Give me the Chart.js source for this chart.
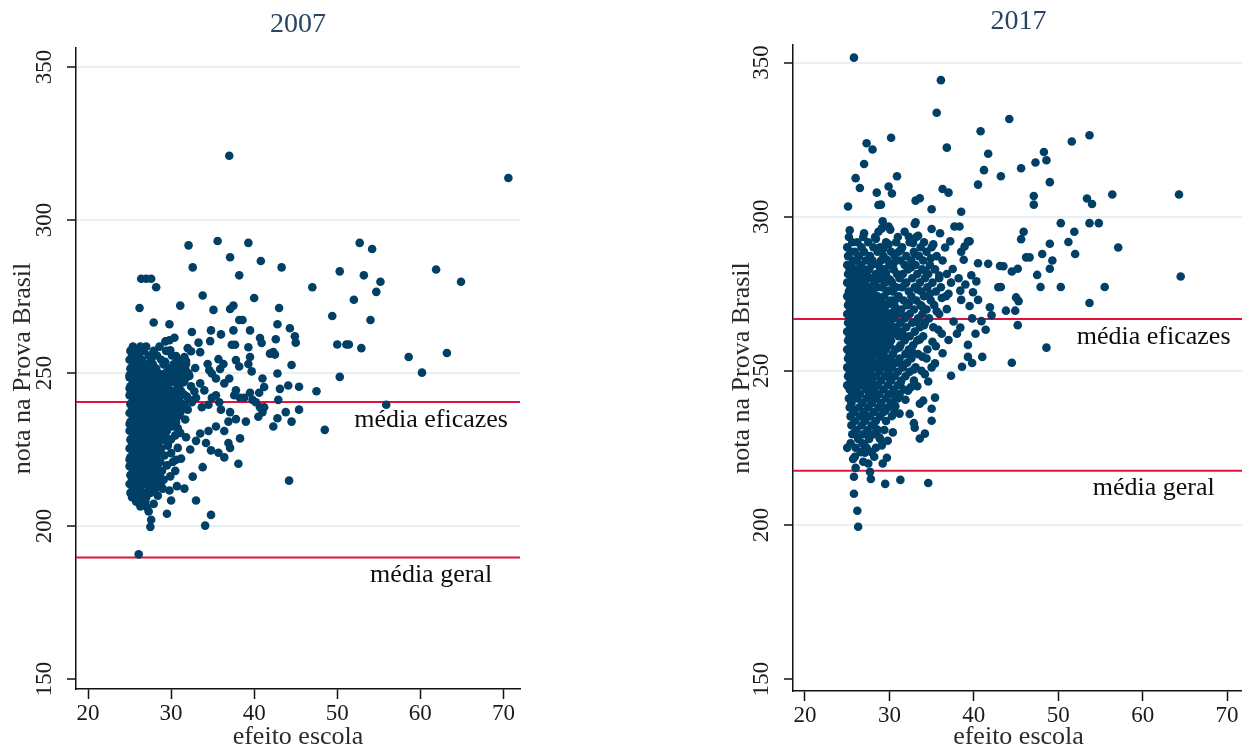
<!DOCTYPE html>
<html>
<head>
<meta charset="utf-8">
<script src="https://cdn.jsdelivr.net/npm/chart.js@4.4.1/dist/chart.umd.min.js"></script>
<style>
  html, body { margin: 0; padding: 0; background: #ffffff; }
  body { width: 1242px; height: 750px; overflow: hidden; position: relative; }
  canvas { position: absolute; top: 0; }
  #c2007 { left: 0px; }
  #c2017 { left: 717px; }
</style>
</head>
<body>
<canvas id="c2007" width="620" height="750"></canvas>
<canvas id="c2017" width="540" height="750"></canvas>
<script>
// ---- data -------------------------------------------------------------
const years = ['2007', '2017'];
const xTicks = [20, 30, 40, 50, 60, 70];
const yTicks = [150, 200, 250, 300, 350];
const xLabel = 'efeito escola';
const yLabel = 'nota na Prova Brasil';
const labelEficazes = 'média eficazes';
const labelGeral = 'média geral';
const mediaEficazes = [240.5, 266.8];
const mediaGeral = [189.7, 217.6];

// 2007: schools outside the dense core, [efeito escola, nota]
const outer2007 = [
  [37.0,321.0],[70.6,313.7],[32.1,291.7],[35.6,293.1],[39.3,292.5],[52.7,292.5],[54.2,290.5],
  [37.1,287.8],[40.8,286.6],[32.6,284.5],[43.3,284.5],[61.9,283.8],[50.3,283.2],[53.2,281.9],
  [38.2,281.9],[55.2,279.8],[64.9,279.8],[26.4,280.8],[27.0,280.8],[27.6,280.8],[28.2,278.0],
  [47.0,278.0],[54.7,276.5],[33.8,275.3],[40.0,274.5],[52.0,273.9],[26.2,271.2],[31.1,272.0],
  [35.1,270.6],[37.1,270.9],[37.5,272.0],[43.0,271.2],[49.4,268.6],[54.0,267.3],[27.9,266.5],
  [29.8,265.9],[38.2,267.3],[38.6,267.3],[32.5,263.4],[34.8,263.9],[36.0,262.6],[37.5,263.9],
  [39.5,263.9],[42.8,265.9],[44.3,264.6],[44.9,262.0],[45.0,259.9],[40.7,261.4],[40.9,259.8],
  [42.6,261.0],[50.0,259.3],[51.1,259.3],[51.4,259.3],[52.9,258.1],[63.2,256.5],[58.6,255.2],
  [60.2,250.1],[50.3,248.7],[47.5,244.0],[45.4,245.5],[45.4,238.0],[44.1,245.9],[44.5,252.6],
  [43.8,237.2],[44.5,234.1],[55.9,239.6],[48.5,231.4],[44.2,214.8],[42.3,232.5],[42.8,235.2],
  [38.1,220.3],[36.4,222.4],[33.8,219.2],[32.6,216.1],[31.6,212.2],[30.0,208.3],[33.0,208.3],
  [34.8,203.6],[34.1,200.1],[29.5,204.0],[27.5,199.7],[27.6,202.0],[27.3,204.7],[26.4,206.7],
  [26.1,190.7],
  [29.3,260.3],[29.8,260.7],[30.4,261.5],[32.0,258.1],[32.4,257.1],[33.3,259.9],[34.7,260.4],
  [33.5,256.8],[31.6,255.2],[31.8,252.9],[31.3,251.3],[34.4,252.9],[34.6,250.9],[34.9,249.8],
  [35.4,248.2],[35.9,251.3],[36.3,252.9],[35.7,254.5],[37.3,259.2],[37.7,259.2],[37.8,254.2],
  [39.3,258.4],[39.5,255.2],[38.2,252.1],[39.3,252.9],[39.7,250.5],[37.0,248.2],[36.4,246.6],
  [37.8,244.3],[38.3,241.9],[37.6,242.7],[38.8,241.9],[39.5,243.5],[39.8,241.2],[40.2,240.4],
  [40.7,238.8],[41.0,237.2],[40.5,235.7],[33.5,246.6],[34.0,244.3],[33.0,241.9],[32.5,240.4],
  [32.0,238.0],[33.7,238.8],[34.5,239.6],[34.9,241.9],[35.4,242.7],[35.8,240.4],[36.0,238.0],
  [37.1,237.2],[37.8,234.9],[36.9,234.1],[36.4,231.0],[36.9,227.1],[37.1,225.5],[35.4,232.5],
  [34.5,231.0],[33.5,230.2],[33.0,227.8],[34.2,227.1],[34.8,224.7],[35.7,223.9],[38.3,228.6],
  [39.0,234.1],[41.2,238.8],[41.9,256.3],[42.3,256.8],[42.5,256.0],[42.8,249.8],[43.1,244.8],
  [42.9,241.2],[41.0,248.2],[41.2,245.4],[40.6,243.5],
  [31.0,246.0],[31.5,243.0],[32.2,249.0],[32.8,244.0],[31.2,238.0],[30.8,232.0],[31.8,229.0],
  [32.3,225.0],[31.2,222.0],[30.5,218.0],[30.7,213.0]
];

// 2007: schools between the core and the scattered ones
const mid2007 = [
  [29.9,257.4],[30.6,255.5],[29.3,253.6],[31.8,253.9],[30.7,249.2],[32.9,251.6],[29.6,246.9],
  [31.6,247.4],[30.9,244.5],[29.7,243.0],[31.9,242.3],[30.8,240.1],[29.8,238.9],[31.6,239.3],
  [30.9,236.0],[29.6,235.2],[31.7,234.8],[30.3,233.3],[29.4,231.8],[31.1,230.4],[30.0,228.3],
  [29.6,226.2],[30.8,225.5],[29.2,223.0],[30.6,221.6],[29.5,219.8],[29.9,216.2],[28.8,214.3],
  [29.8,211.6],[28.4,209.9],[27.9,207.2],[27.1,206.0],[25.3,209.4],[25.0,221.7],[25.0,233.3],
  [25.0,249.2],[25.0,244.9]
];

// 2007: dense core, rows of [nota, efeito escola values]
const core2007 = [
  [258.6, [25.4, 26.3, 27.0, 28.6]],
  [257.2, [25.1, 25.8, 26.7, 27.9, 29.4]],
  [255.7, [25.3, 26.1, 27.3, 28.3, 30.1]],
  [254.3, [25.0, 25.6, 26.5, 27.6, 28.8, 30.7, 31.4]],
  [252.8, [25.4, 26.2, 26.9, 27.8, 29.1, 30.3, 31.1]],
  [251.4, [25.1, 25.7, 26.6, 27.3, 28.2, 29.7, 30.6, 31.7]],
  [249.9, [25.3, 26.0, 26.8, 27.5, 28.5, 29.3, 30.2, 31.3, 32.1]],
  [248.5, [25.0, 25.6, 26.4, 27.1, 27.9, 28.9, 29.8, 30.9, 31.8]],
  [247.0, [25.4, 26.1, 26.9, 27.7, 28.4, 29.2, 30.4, 31.5]],
  [245.6, [25.1, 25.8, 26.5, 27.3, 28.1, 28.8, 29.6, 30.8, 32.4]],
  [244.1, [25.3, 26.0, 26.7, 27.5, 28.3, 29.1, 30.1, 31.2]],
  [242.7, [25.0, 25.6, 26.3, 27.0, 27.8, 28.6, 29.4, 30.5, 31.6]],
  [241.2, [25.4, 26.1, 26.8, 27.4, 28.2, 29.0, 29.9, 30.9, 32.2]],
  [239.8, [25.1, 25.7, 26.4, 27.2, 27.9, 28.7, 29.5, 30.4, 31.4]],
  [238.3, [25.3, 26.0, 26.6, 27.4, 28.1, 28.9, 29.8, 30.7]],
  [236.9, [25.0, 25.6, 26.3, 27.1, 27.8, 28.5, 29.3, 30.3, 31.1]],
  [235.4, [25.4, 26.1, 26.8, 27.6, 28.3, 29.1, 30.0]],
  [234.0, [25.1, 25.8, 26.5, 27.3, 28.0, 28.8, 29.7, 30.6]],
  [232.5, [25.3, 26.0, 26.7, 27.4, 28.2, 29.0, 30.2]],
  [231.1, [25.0, 25.6, 26.4, 27.1, 27.9, 28.6, 29.5]],
  [229.6, [25.4, 26.2, 26.9, 27.7, 28.5, 29.3, 30.5]],
  [228.2, [25.1, 25.8, 26.5, 27.3, 28.1, 29.0]],
  [226.7, [25.3, 26.0, 26.8, 27.6, 28.4, 29.6]],
  [225.3, [25.0, 25.7, 26.4, 27.2, 27.9, 28.8]],
  [223.8, [25.4, 26.2, 26.9, 27.7, 28.6, 30.0]],
  [222.4, [25.1, 25.8, 26.6, 27.4, 28.2]],
  [220.9, [25.3, 26.1, 26.9, 27.8, 28.7, 30.2]],
  [219.5, [25.0, 25.7, 26.5, 27.4, 28.3]],
  [218.0, [25.4, 26.2, 27.1, 28.0, 28.9]],
  [216.6, [25.1, 25.9, 26.8, 27.7, 28.6]],
  [215.1, [25.3, 26.3, 27.2, 28.2, 29.1]],
  [213.7, [25.0, 25.8, 26.7, 27.6, 28.5]],
  [212.2, [25.4, 26.2, 27.3, 28.1, 29.0]],
  [210.8, [25.1, 25.9, 26.6, 27.5]],
  [209.3, [25.5, 26.3, 27.0]],
  [207.9, [25.8, 26.9]],
  [206.4, [26.3]]
];

// 2017: schools outside the dense core
const outer2017 = [
  [25.8,351.6],[36.1,344.3],[35.6,333.7],[44.2,331.7],[40.8,327.7],[30.2,325.6],[51.6,324.4],
  [53.7,326.4],[27.3,323.8],[28.0,321.8],[36.8,322.4],[41.7,320.4],[48.3,321.0],[48.6,318.3],
  [47.3,317.6],[45.6,315.7],[41.2,315.1],[27.0,317.1],[26.0,312.5],[30.9,313.1],[43.2,313.1],
  [49.0,311.2],[26.5,309.3],[40.5,310.4],[29.9,309.8],[30.3,307.5],[28.5,307.8],[36.3,309.0],
  [37.0,307.8],[47.1,306.7],[47.1,303.9],[53.4,305.9],[54.0,304.1],[56.4,307.2],[64.3,307.2],
  [29.0,303.9],[25.1,303.3],[28.7,303.8],[33.1,305.2],[33.6,306.0],[35.0,302.4],[38.5,301.6],
  [29.2,298.5],[33.1,298.2],[33.0,297.6],[37.7,296.8],[38.3,296.8],[50.3,297.9],[53.7,297.9],
  [54.8,297.9],[25.3,295.6],[27.0,294.6],[28.7,295.1],[29.1,296.2],[29.9,296.8],[30.1,295.8],
  [31.8,295.1],[32.3,293.5],[32.8,291.5],[33.4,293.8],[35.0,296.0],[35.2,291.0],[36.0,294.6],
  [45.9,295.1],[45.6,292.7],[51.9,295.1],[51.2,291.8],[49.0,291.2],[57.1,290.0],[39.3,291.9],
  [38.9,290.3],[38.5,288.6],[39.5,292.0],[52.0,287.9],[48.1,287.9],[46.2,286.8],[46.6,286.8],
  [49.3,285.8],[43.5,283.9],[44.5,282.2],[45.2,283.1],[49.0,283.1],[47.5,281.1],[64.5,280.6],
  [41.7,284.7],[40.5,284.9],[43.1,284.0],[42.9,277.1],[50.3,277.2],[47.9,277.2],[55.5,277.2],
  [43.2,277.2],[45.0,273.8],[45.3,272.6],[53.7,272.0],[43.8,269.5],[44.9,269.5],[41.9,270.6],
  [42.1,268.0],[40.9,266.1],[41.4,263.3],[45.2,264.8],[48.6,257.5],[44.5,252.6],[41.0,254.5],
  [39.3,258.4],[39.3,254.5],[39.8,252.5],[38.6,251.3],[37.3,248.4],[36.3,255.7],[35.0,251.1],
  [35.4,252.4],
  [37.5,283.0],[38.2,280.0],[39.0,278.0],[39.7,281.0],[40.3,279.0],[37.0,275.0],[38.5,273.0],
  [39.5,271.0],[40.5,273.0],[36.8,270.0],[37.6,266.0],[38.4,264.0],[39.8,267.0],[36.2,262.0],
  [37.0,260.0],[35.5,258.0],[38.0,262.0],[40.2,262.0],[38.8,286.0],[36.6,290.0],[37.2,292.0],
  [38.4,276.0],[39.9,275.5],
  [26.3,199.4],[26.2,204.6],[25.8,210.1],[25.8,215.6],[27.7,217.2],[27.8,214.9],[29.5,213.3],
  [31.3,214.6],[34.6,213.6],[27.5,219.9],[29.7,221.8],[29.2,219.9],[27.1,223.4],[25.7,221.4],
  [25.0,225.0],[29.8,227.3],[33.6,228.0],[34.2,229.6],[33.0,231.5],[35.0,233.8],[35.0,237.7],
  [35.4,241.3],[33.6,239.3],[34.0,240.3],[32.4,236.0],[32.9,233.0],[30.3,235.3],[31.2,236.1],
  [28.8,228.4],[32.2,243.5],[31.0,241.0],[33.3,245.0],[34.6,246.5],[33.8,250.0],[34.4,254.0]
];

// 2017: schools between the core and the scattered ones
const mid2017 = [
  [29.9,291.0],[31.4,289.4],[33.0,288.0],[34.9,286.5],[30.5,284.9],[32.6,283.6],[34.3,282.3],
  [35.9,280.9],[30.1,279.4],[31.9,278.3],[33.3,276.4],[34.8,275.0],[36.2,273.6],[30.9,273.5],
  [32.3,271.9],[33.9,270.8],[35.6,269.3],[30.4,269.0],[31.9,267.7],[33.2,265.9],[34.1,264.8],
  [35.8,263.3],[30.6,262.1],[32.0,261.0],[33.6,260.2],[35.1,259.4],[31.2,257.6],[32.7,256.1],
  [33.9,254.6],[30.2,253.3],[31.5,251.9],[32.9,250.4],[34.2,248.9],[30.0,247.7],[31.3,245.9],
  [32.5,244.6],[30.6,243.0],[31.9,240.6],[29.5,237.0],[30.7,238.5],[28.5,231.0],[29.1,225.8],
  [30.4,230.0],[27.0,226.0],[26.0,218.5],[26.9,220.5],
  [28.4,292.8],[29.3,289.6],[29.7,286.0],[28.9,283.2],[29.6,281.8],[28.8,279.9],[30.0,276.0],
  [29.9,271.7],[29.6,268.9],[29.5,263.5],[29.4,258.9],[29.1,255.0],[29.8,250.6],[28.0,246.0],
  [26.9,235.0],[25.9,229.9],[27.6,228.8],[25.7,237.3],[28.0,241.5]
];

// 2017: dense core, rows of [nota, efeito escola values]
const core2017 = [
  [293.4, [25.2, 26.9, 28.3, 31.0, 33.2]],
  [291.7, [25.6, 26.2, 27.5, 29.6, 30.8, 32.4, 34.1]],
  [290.1, [25.0, 26.7, 28.1, 28.9, 31.5, 33.7, 35.0]],
  [288.6, [25.4, 25.9, 27.0, 28.6, 30.2, 31.1, 32.9, 34.4]],
  [287.2, [25.1, 26.4, 27.7, 29.3, 30.6, 32.0, 33.5, 35.6]],
  [285.8, [25.7, 26.1, 27.2, 28.0, 29.0, 31.3, 32.6, 34.0, 36.3]],
  [284.3, [25.0, 25.5, 26.6, 27.9, 28.7, 30.0, 31.8, 33.1, 34.8]],
  [282.9, [25.3, 26.2, 27.0, 27.6, 29.4, 30.5, 32.2, 33.9, 35.4]],
  [281.4, [25.1, 25.8, 26.5, 27.3, 28.4, 29.1, 30.9, 31.6, 33.3, 34.6, 36.8]],
  [280.0, [25.5, 26.1, 26.9, 27.8, 28.9, 29.8, 31.2, 32.7, 34.2, 35.9]],
  [278.6, [25.0, 25.7, 26.4, 27.1, 28.2, 29.5, 30.3, 32.0, 33.6, 35.1, 37.3]],
  [277.1, [25.4, 26.0, 26.8, 27.6, 28.6, 29.1, 30.8, 31.5, 33.0, 34.5, 36.1]],
  [275.7, [25.2, 25.9, 26.5, 27.3, 28.0, 29.7, 30.4, 32.3, 33.8, 35.5]],
  [274.2, [25.0, 25.6, 26.3, 27.0, 27.8, 28.6, 29.4, 31.1, 32.6, 34.1, 36.7]],
  [272.8, [25.3, 26.1, 26.7, 27.5, 28.3, 29.0, 30.2, 31.7, 33.2, 34.9]],
  [271.3, [25.1, 25.7, 26.4, 27.2, 28.1, 28.8, 29.6, 30.6, 32.1, 33.7, 35.3]],
  [269.9, [25.4, 26.0, 26.9, 27.7, 28.5, 29.3, 30.9, 31.4, 32.9, 34.4]],
  [268.4, [25.0, 25.8, 26.6, 27.4, 28.2, 29.0, 29.8, 31.0, 32.4, 33.9, 35.9]],
  [267.0, [25.3, 25.9, 26.5, 27.1, 27.9, 28.7, 29.5, 30.5, 31.8, 33.4, 34.7]],
  [265.6, [25.1, 25.6, 26.2, 27.0, 27.6, 28.4, 29.2, 30.1, 31.3, 32.7, 34.2]],
  [264.1, [25.4, 26.0, 26.8, 27.5, 28.2, 28.9, 29.9, 30.8, 32.0, 33.6, 35.2]],
  [262.7, [25.0, 25.7, 26.4, 27.2, 27.9, 28.6, 29.4, 30.4, 31.5, 33.0]],
  [261.2, [25.3, 25.9, 26.6, 27.4, 28.1, 29.0, 29.7, 31.1, 32.4, 34.0]],
  [259.8, [25.1, 25.6, 26.3, 27.0, 27.7, 28.5, 29.3, 30.2, 31.8, 33.3]],
  [258.3, [25.4, 26.1, 26.9, 27.6, 28.3, 29.1, 30.0, 31.3, 32.8]],
  [256.9, [25.0, 25.8, 26.5, 27.3, 28.0, 28.8, 29.6, 30.7, 32.3, 34.5]],
  [255.4, [25.3, 26.0, 26.7, 27.5, 28.4, 29.3, 30.4, 31.9, 33.4]],
  [254.0, [25.1, 25.7, 26.4, 27.1, 27.9, 29.0, 30.0, 31.2, 32.6]],
  [252.6, [25.4, 26.2, 27.0, 27.8, 28.6, 29.6, 30.8, 32.1]],
  [251.1, [25.0, 25.8, 26.6, 27.3, 28.2, 29.2, 30.3, 31.6, 33.1]],
  [249.7, [25.3, 26.0, 26.9, 27.7, 28.8, 29.9, 31.0, 32.4]],
  [248.2, [25.1, 25.7, 26.5, 27.4, 28.4, 29.5, 30.6, 31.9]],
  [246.8, [25.4, 26.2, 27.0, 27.9, 29.0, 30.2, 31.4, 32.9]],
  [245.3, [25.0, 25.8, 26.7, 27.6, 28.6, 29.8, 31.0]],
  [243.9, [25.3, 26.1, 27.2, 28.2, 29.3, 30.5, 31.7]],
  [242.4, [25.6, 26.5, 27.6, 28.8, 29.9, 31.2]],
  [241.0, [25.2, 26.2, 27.3, 28.4, 29.6, 30.7]],
  [239.5, [25.5, 26.8, 27.9, 29.0, 30.2]],
  [238.1, [25.3, 26.4, 27.5, 28.7, 29.8]],
  [236.6, [25.8, 27.0, 28.2, 29.3, 30.6]],
  [235.2, [25.4, 26.5, 27.7, 28.9]],
  [233.7, [25.9, 27.1, 28.4, 29.6]],
  [232.3, [25.5, 26.7, 27.9]],
  [230.8, [26.1, 27.4, 28.6, 29.4]],
  [229.4, [25.6, 26.9, 28.1]],
  [227.9, [26.3, 27.6, 28.9]],
  [226.5, [25.4, 26.8]],
  [225.0, [26.0, 27.3, 28.4]],
  [223.6, [26.6, 27.9]],
  [222.1, [25.9, 28.2]]
];

// ---- drawing ----------------------------------------------------------
const SERIF = "'Liberation Serif', 'Times New Roman', serif";
const DOT = '#003f66';
const RED = '#e2123f';

function toPoints(outer, mid, core) {
  const pts = outer.concat(mid).map(([x, y]) => ({ x, y }));
  core.forEach(([y, xs]) => xs.forEach(x => pts.push({ x, y })));
  return pts;
}

// horizontal reference lines with their captions, under the dots
const meanLines = {
  id: 'meanLines',
  beforeDatasetsDraw(chart, args, opts) {
    const { ctx, chartArea, scales } = chart;
    ctx.save();
    opts.lines.forEach(line => {
      const y = scales.y.getPixelForValue(line.value);
      ctx.strokeStyle = RED;
      ctx.lineWidth = 2;
      ctx.beginPath();
      ctx.moveTo(chartArea.left, y);
      ctx.lineTo(chartArea.right, y);
      ctx.stroke();
      ctx.fillStyle = '#0d0d0d';
      ctx.font = '26px ' + SERIF;
      ctx.textAlign = 'center';
      ctx.textBaseline = 'middle';
      ctx.fillText(line.label, scales.x.getPixelForValue(opts.labelAt), y + 18);
    });
    ctx.restore();
  }
};

// vertical (rotated) y tick labels and the panel heading
const panelText = {
  id: 'panelText',
  afterDraw(chart, args, opts) {
    const { ctx, chartArea, scales } = chart;
    ctx.save();
    ctx.fillStyle = '#1a1a1a';
    ctx.font = '23px ' + SERIF;
    ctx.textAlign = 'center';
    ctx.textBaseline = 'middle';
    scales.y.ticks.forEach(t => {
      const y = scales.y.getPixelForValue(t.value);
      ctx.save();
      ctx.translate(chartArea.left - 31, y);
      ctx.rotate(-Math.PI / 2);
      ctx.fillText(String(t.value), 0, 0);
      ctx.restore();
    });
    ctx.fillStyle = '#2a4563';
    ctx.font = '28px ' + SERIF;
    ctx.fillText(opts.title, (chartArea.left + chartArea.right) / 2, chartArea.top - 23);
    ctx.restore();
  }
};

function makePanel(canvasId, idx, outer, mid, core, geom) {
  const data = toPoints(outer, mid, core);
  return new Chart(document.getElementById(canvasId), {
    type: 'scatter',
    data: {
      datasets: [{
        data,
        pointRadius: 4.3,
        pointHoverRadius: 4.3,
        pointBackgroundColor: DOT,
        pointBorderWidth: 0,
        borderColor: DOT
      }]
    },
    options: {
      responsive: false,
      animation: false,
      events: [],
      layout: { padding: { top: geom.top, right: geom.right, bottom: 0, left: 0 } },
      plugins: {
        legend: { display: false },
        tooltip: { enabled: false },
        title: { display: false },
        meanLines: {
          labelAt: 61.3,
          lines: [
            { value: mediaEficazes[idx], label: labelEficazes },
            { value: mediaGeral[idx], label: labelGeral }
          ]
        },
        panelText: { title: years[idx] }
      },
      scales: {
        x: {
          type: 'linear',
          min: geom.xMin,
          max: geom.xMax,
          afterBuildTicks: s => { s.ticks = xTicks.map(v => ({ value: v })); },
          afterFit: s => { s.height = geom.xAxisHeight; },
          border: { display: true, color: '#111111', width: 1.5 },
          grid: { drawOnChartArea: false, drawTicks: true, tickLength: 10, tickColor: '#111111', tickWidth: 1.5 },
          ticks: { color: '#1a1a1a', font: { family: SERIF, size: 23 }, padding: 1, maxRotation: 0, minRotation: 0 },
          title: { display: true, text: xLabel, color: '#2b2b2b', font: { family: SERIF, size: 26, lineHeight: 1 }, padding: { top: 0, bottom: 0 } }
        },
        y: {
          type: 'linear',
          min: geom.yMin,
          max: geom.yMax,
          afterBuildTicks: s => { s.ticks = yTicks.map(v => ({ value: v })); },
          afterFit: s => { s.width = 76; },
          border: { display: true, color: '#111111', width: 1.5 },
          grid: {
            drawOnChartArea: true,
            drawTicks: true,
            tickLength: 9,
            tickColor: '#111111',
            tickWidth: 1.5,
            lineWidth: 2,
            color: c => (c.tick && c.tick.value === yTicks[0]) ? 'rgba(0,0,0,0)' : '#e7f0f3'
          },
          ticks: { display: false },
          title: { display: true, text: yLabel, color: '#2b2b2b', font: { family: SERIF, size: 26, lineHeight: 1 }, padding: { top: geom.yTitlePad, bottom: 0 } }
        }
      }
    },
    plugins: [meanLines, panelText]
  });
}

makePanel('c2007', 0, outer2007, mid2007, core2007, {
  top: 48, right: 100, xAxisHeight: 61, yTitlePad: 10,
  xMin: 18.55, xMax: 72.0, yMin: 146.7, yMax: 356.2
});
makePanel('c2017', 1, outer2017, mid2017, core2017, {
  top: 45, right: 13, xAxisHeight: 59, yTitlePad: 12,
  xMin: 18.58, xMax: 72.0, yMin: 146.1, yMax: 355.7
});
</script>
</body>
</html>
